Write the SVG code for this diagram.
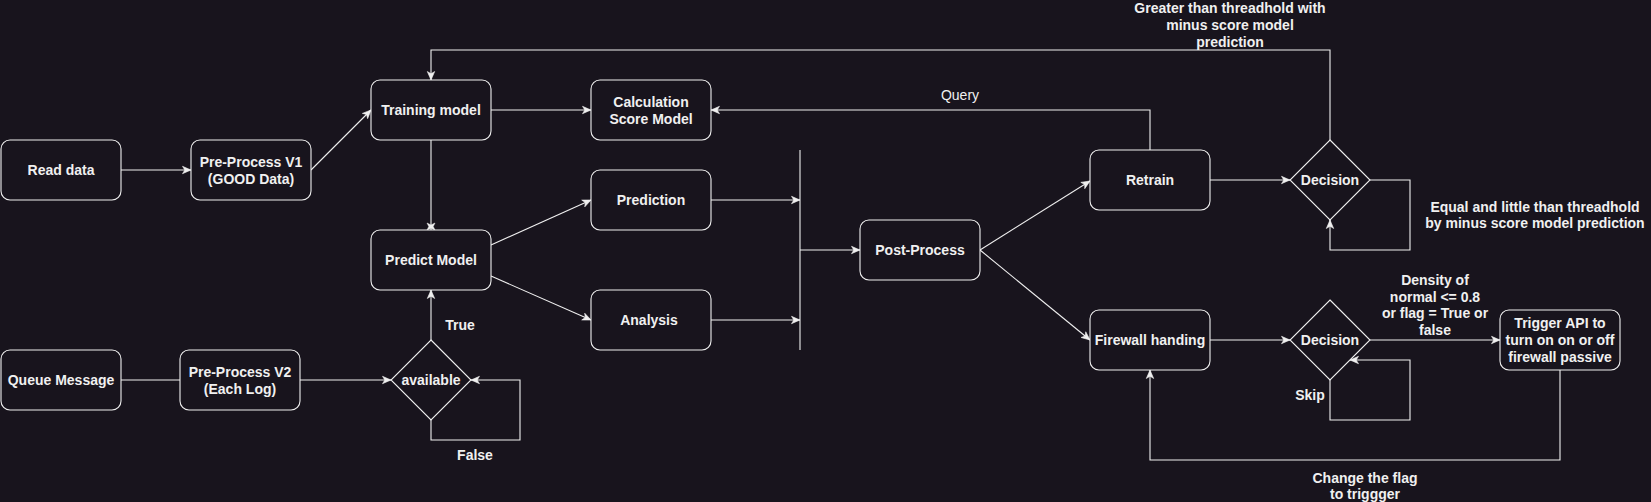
<svg xmlns="http://www.w3.org/2000/svg" width="1651" height="502" viewBox="0 0 1651 502">
<defs>
<marker id="arr" markerUnits="userSpaceOnUse" markerWidth="10" markerHeight="10" viewBox="0 0 10 10" refX="9" refY="5" orient="auto">
<path d="M0.5,1.3 L9,5 L0.5,8.7 L2.8,5 Z" fill="#f0f0f0" stroke="#f0f0f0" stroke-width="0.6" stroke-linejoin="miter"/>
</marker>
<marker id="dbl" markerUnits="userSpaceOnUse" markerWidth="10" markerHeight="10" viewBox="0 0 10 10" refX="9" refY="5" orient="auto">
<path d="M2,1 L4,5 L2,9 L5.5,7.2 L9,9 L7.2,5 L9,1 L5.5,2.8 Z" fill="#f0f0f0" stroke="#f0f0f0" stroke-width="0.5"/>
</marker>
<style>
.n{fill:#18141d;stroke:#f0f0f0;stroke-width:1.1}
.t{font-family:"Liberation Sans",Arial,Helvetica,sans-serif;font-size:14px;font-weight:bold;fill:#f0f0f0;text-anchor:middle}
.q{font-weight:normal}
.c{fill:none;stroke:#f0f0f0;stroke-width:1.1}
.a{marker-end:url(#arr)}
</style>
</defs>
<rect x="0" y="0" width="1651" height="502" fill="#18141d"/>
<g id="connectors">
<path class="c a" d="M121,170 H191"/>
<path class="c a" d="M311,170 L371,110"/>
<path class="c a" d="M491,110 H591"/>
<path class="c" marker-end="url(#dbl)" d="M431,140 V230"/>
<path class="c a" d="M491,245 L591,200"/>
<path class="c a" d="M491,276 L591,320"/>
<path class="c a" d="M711,200 H800"/>
<path class="c a" d="M711,320 H800"/>
<path class="c" d="M800,150 V350"/>
<path class="c a" d="M800,250 H860"/>
<path class="c a" d="M980,250 L1090,181"/>
<path class="c a" d="M980,250 L1090,340"/>
<path class="c a" d="M1210,180 H1290"/>
<path class="c a" d="M1330,140 V50 H431 V80"/>
<path class="c a" d="M1150,150 V110 H711"/>
<path class="c a" d="M1370,180 H1410 V250 H1330 V220"/>
<path class="c a" d="M1210,340 H1290"/>
<path class="c a" d="M1370,340 H1500"/>
<path class="c a" d="M1330,380 V420 H1410 V360 H1350"/>
<path class="c a" d="M1560,370 V460 H1150 V370"/>
<path class="c" d="M121,380 H180"/>
<path class="c a" d="M300,380 H391"/>
<path class="c a" d="M431,340 V290"/>
<path class="c a" d="M431,420 V440 H520 V380 H471"/>
<text class="t q" x="960" y="100">Query</text>
<text class="t" x="1230" y="13">Greater than threadhold with</text>
<text class="t" x="1230" y="30">minus score model</text>
<text class="t" x="1230" y="47">prediction</text>
<text class="t" x="1535" y="212">Equal and little than threadhold</text>
<text class="t" x="1535" y="228">by minus score model prediction</text>
<text class="t" x="1435" y="285">Density of</text>
<text class="t" x="1435" y="302">normal &lt;= 0.8</text>
<text class="t" x="1435" y="318">or flag = True or</text>
<text class="t" x="1435" y="335">false</text>
<text class="t" x="1310" y="400">Skip</text>
<text class="t" x="1365" y="483">Change the flag</text>
<text class="t" x="1365" y="499">to triggger</text>
<text class="t" x="460" y="330">True</text>
<text class="t" x="475" y="460">False</text>
</g>
<g id="read-data"><rect class="n" x="1" y="140" width="120" height="60" rx="9"/><text class="t" x="61" y="175">Read data</text></g>
<g id="pre-process-v1"><rect class="n" x="191" y="140" width="120" height="60" rx="9"/><text class="t" x="251" y="167">Pre-Process V1</text><text class="t" x="251" y="184">(GOOD Data)</text></g>
<g id="training-model"><rect class="n" x="371" y="80" width="120" height="60" rx="9"/><text class="t" x="431" y="115">Training model</text></g>
<g id="predict-model"><rect class="n" x="371" y="230" width="120" height="60" rx="9"/><text class="t" x="431" y="265">Predict Model</text></g>
<g id="calculation"><rect class="n" x="591" y="80" width="120" height="60" rx="9"/><text class="t" x="651" y="107">Calculation</text><text class="t" x="651" y="124">Score Model</text></g>
<g id="prediction"><rect class="n" x="591" y="170" width="120" height="60" rx="9"/><text class="t" x="651" y="205">Prediction</text></g>
<g id="analysis"><rect class="n" x="591" y="290" width="120" height="60" rx="9"/><text class="t" x="649" y="325">Analysis</text></g>
<g id="post-process"><rect class="n" x="860" y="220" width="120" height="60" rx="9"/><text class="t" x="920" y="255">Post-Process</text></g>
<g id="retrain"><rect class="n" x="1090" y="150" width="120" height="60" rx="9"/><text class="t" x="1150" y="185">Retrain</text></g>
<g id="decision-1"><path class="n" d="M1330,140 L1370,180 L1330,220 L1290,180 Z"/><text class="t" x="1330" y="185">Decision</text></g>
<g id="firewall"><rect class="n" x="1090" y="310" width="120" height="60" rx="9"/><text class="t" x="1150" y="345">Firewall handing</text></g>
<g id="decision-2"><path class="n" d="M1330,300 L1370,340 L1330,380 L1290,340 Z"/><text class="t" x="1330" y="345">Decision</text></g>
<g id="trigger-api"><rect class="n" x="1500" y="310" width="120" height="60" rx="9"/><text class="t" x="1560" y="328">Trigger API to</text><text class="t" x="1560" y="345">turn on on or off</text><text class="t" x="1560" y="362">firewall passive</text></g>
<g id="queue-message"><rect class="n" x="1" y="350" width="120" height="60" rx="9"/><text class="t" x="61" y="385">Queue Message</text></g>
<g id="pre-process-v2"><rect class="n" x="180" y="350" width="120" height="60" rx="9"/><text class="t" x="240" y="377">Pre-Process V2</text><text class="t" x="240" y="394">(Each Log)</text></g>
<g id="available"><path class="n" d="M431,340 L471,380 L431,420 L391,380 Z"/><text class="t" x="431" y="385">available</text></g>
</svg>
